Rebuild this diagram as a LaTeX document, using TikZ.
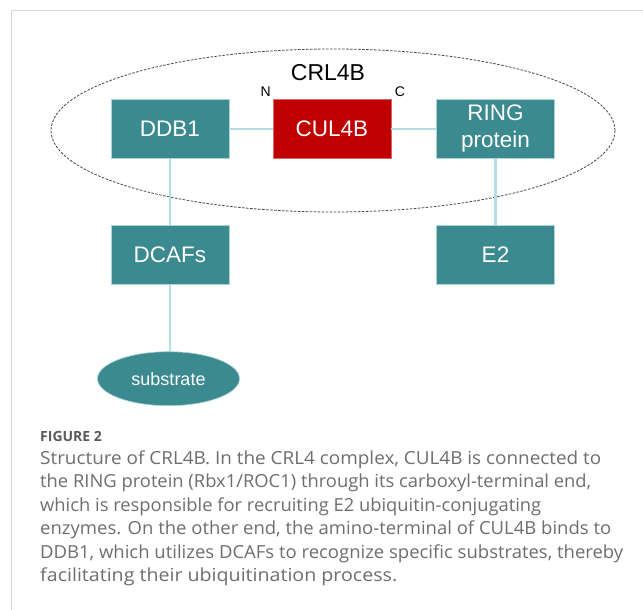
\documentclass[tikz,border=0pt]{standalone}
\usepackage{fontspec}
\usepackage{graphicx}
\setmainfont{Liberation Sans}
\newfontfamily\capfont{Open Sans}
\usetikzlibrary{shapes.geometric}
\definecolor{teal1}{HTML}{3A8A8F}
\definecolor{tealedge}{HTML}{A9D6DA}
\definecolor{redbox}{HTML}{C00000}
\definecolor{linkc}{HTML}{B4DEE4}
\definecolor{framec}{HTML}{D4D4D4}
\definecolor{capc}{HTML}{6E6E6E}
\definecolor{figc}{HTML}{5A5A5A}
\definecolor{dashc}{HTML}{444444}
\newcommand{\capfit}[2]{\resizebox{#1}{\height}{#2}}
\tikzset{
  protbox/.style={rectangle, fill=teal1, draw=tealedge, line width=0.6pt, minimum width=118pt, minimum height=59pt, inner sep=0pt, text=white, font=\fontsize{22.5}{27}\selectfont, align=center},
  cullbox/.style={protbox, fill=redbox, draw=redbox!60!white},
  subst/.style={ellipse, fill=teal1, draw=tealedge, line width=0.6pt, minimum width=142pt, minimum height=54pt, inner sep=0pt, text=white, font=\fontsize{18}{20}\selectfont},
  link/.style={draw=linkc, line width=2.4pt},
  complexring/.style={ellipse, draw=dashc, line width=0.8pt, dash pattern=on 2.5pt off 1.5pt, minimum width=564pt, minimum height=163pt, inner sep=0pt},
  termlabel/.style={font=\fontsize{14}{16}\selectfont, inner sep=0pt},
  capline/.style={anchor=base west, inner sep=0pt, text=capc, font=\capfont\fontsize{18}{20}\selectfont},
}
\begin{document}
\begin{tikzpicture}[x=1pt,y=-1pt]
\useasboundingbox (0,0) rectangle (643,610);
\fill[white] (0,0) rectangle (643,610);
% frame
\draw[framec, line width=1pt] (11.5,610) |- (643,11);
% complex outline
\node[complexring] (cplx) at (333,130.5) {};
\node[font=\fontsize{23}{26}\selectfont, inner sep=0pt] (crllab) at (328,73) {CRL4B};
% boxes
\node[protbox] (ddb1) at (169.8,128.7) {DDB1};
\node[cullbox] (cul4b) at (332,128.7) {CUL4B};
\node[protbox] (ring) at (495.5,128.7) {RING\\protein};
\node[protbox] (dcafs) at (169.8,255) {DCAFs};
\node[protbox] (e2) at (495.5,255) {E2};
\node[subst] (sub) at (168.5,378.7) {substrate};
\node[termlabel] (nterm) at (265.6,92) {N};
\node[termlabel] (cterm) at (400,92) {C};
% connectors
\draw[link] (ddb1.east) -- (cul4b.west);
\draw[link] (cul4b.east) -- (ring.west);
\draw[link] (ddb1.south) -- (dcafs.north);
\draw[link] (ring.south) -- (e2.north);
\draw[link] (dcafs.south) -- (dcafs.south |- sub.north);
% caption
\node[anchor=base west, inner sep=0pt, text=figc, font=\capfont\fontsize{14}{16}\selectfont\bfseries] (fig) at (40,441) {FIGURE 2};
\node[capline] (c1) at (40,464) {\capfit{561pt}{Structure of CRL4B. In the CRL4 complex, CUL4B is connected to}};
\node[capline] (c2) at (40,487.5) {\capfit{551pt}{the RING protein (Rbx1/ROC1) through its carboxyl-terminal end,}};
\node[capline] (c3) at (40,511) {\capfit{501pt}{which is responsible for recruiting E2 ubiquitin-conjugating}};
\node[capline] (c4) at (40,534.5) {\capfit{571pt}{enzymes. On the other end, the amino-terminal of CUL4B binds to}};
\node[capline] (c5) at (40,558) {\capfit{583pt}{DDB1, which utilizes DCAFs to recognize specific substrates, thereby}};
\node[capline] (c6) at (40,581.5) {\capfit{357pt}{facilitating their ubiquitination process.}};
\end{tikzpicture}
\end{document}
